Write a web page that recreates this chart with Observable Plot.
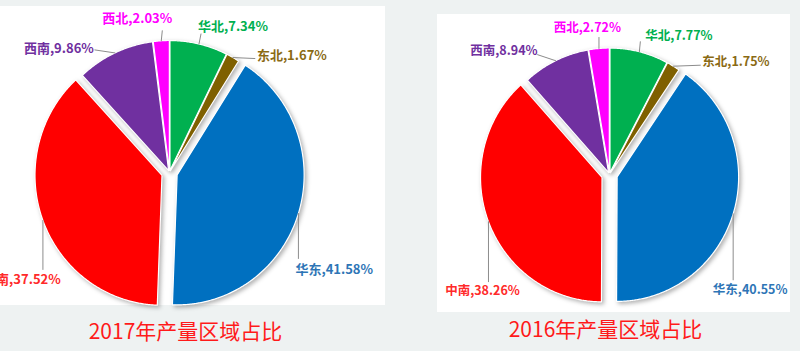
<!DOCTYPE html>
<html><head><meta charset="utf-8">
<script src="https://cdn.jsdelivr.net/npm/d3@7"></script>
<script src="https://cdn.jsdelivr.net/npm/@observablehq/plot@0.6"></script>
<style>
body{margin:0;background:#eef2f2;width:800px;height:351px;overflow:hidden;position:relative;font-family:"Noto Sans CJK SC",sans-serif}
.panel{position:absolute;background:#fff}
#chart{position:absolute;left:0;top:0}
</style></head><body>
<div class="panel" style="left:0;top:6px;width:385px;height:299px"></div>
<div class="panel" style="left:437px;top:14px;width:353px;height:298px"></div>
<div id="chart"></div>
<script>
// ---- data ----
const regions = ["华北","东北","华东","中南","西南","西北"];
const share2017 = [7.34, 1.67, 41.58, 37.52, 9.86, 2.03];
const share2016 = [7.77, 1.75, 40.55, 38.26, 8.94, 2.72];
const titles = ["2017年产量区域占比", "2016年产量区域占比"];
const sliceColors = ["#00b050","#7f6000","#0070c0","#ff0000","#7030a0","#ff00ff"];
const labelColors = ["#00b050","#8a6a14","#2e75b6","#ff2a2a","#7030a0","#ff00ff"];

// ---- layout (styling) ----
// leader: [dx, dy] from slice edge; text: anchor, [tdx, tdy] from leader end
const layout2017 = [
  {dx:2, dy:-10, anchor:"start", tdx:-3, tdy:-7},
  {dx:22, dy:1, anchor:"start", tdx:2, tdy:-3},
  {dx:0, dy:45, anchor:"start", tdx:-3, tdy:11},
  {dx:0, dy:49, anchor:"middle", tdx:-21, tdy:10},
  {dx:-20, dy:-3, anchor:"end", tdx:-1, tdy:-1},
  {dx:1, dy:-10, anchor:"end", tdx:10, tdy:-12}
];
const layout2016 = [
  {dx:1, dy:-10, anchor:"start", tdx:5, tdy:-6},
  {dx:27, dy:-1, anchor:"start", tdx:2, tdy:-3},
  {dx:0, dy:66, anchor:"middle", tdx:17, tdy:10},
  {dx:0, dy:60, anchor:"middle", tdx:-6, tdy:9},
  {dx:-18, dy:-6, anchor:"end", tdx:0, tdy:-4},
  {dx:0, dy:-11, anchor:"end", tdx:22, tdy:-9}
];
const pies = [
  {values: share2017, title: titles[0], cx:169, cy:172, rx:127, ry:130, font:13, titleDx:16, titleY:332, layout: layout2017},
  {values: share2016, title: titles[1], cx:609, cy:174, rx:121.5, ry:124.5, font:12.5, titleDx:-4, titleY:330, layout: layout2016}
];

const slicePts = [], leaderPts = [], labels = [], titleData = [];
pies.forEach((p, pi) => {
  const total = d3.sum(p.values);
  let cum = 0;
  p.values.forEach((v, i) => {
    const a0 = cum / total * 2 * Math.PI;
    cum += v;
    const a1 = cum / total * 2 * Math.PI;
    const am = (a0 + a1) / 2;
    const off = v > 30 ? 8 : 2;
    const ox = p.cx + off * Math.sin(am), oy = p.cy - off * Math.cos(am);
    const key = pi + "-" + i;
    slicePts.push({key, x: ox, y: oy, color: sliceColors[i]});
    const n = Math.max(2, Math.ceil((a1 - a0) / (Math.PI / 360)));
    for (let k = 0; k <= n; k++) {
      const a = a0 + (a1 - a0) * k / n;
      slicePts.push({key, x: ox + p.rx * Math.sin(a), y: oy - p.ry * Math.cos(a), color: sliceColors[i]});
    }
    const ex = ox + p.rx * Math.sin(am), ey = oy - p.ry * Math.cos(am);
    const L = p.layout[i];
    const lx = ex + L.dx, ly = ey + L.dy;
    leaderPts.push({key, x: ex, y: ey}, {key, x: lx, y: ly});
    labels.push({pie: pi, anchor: L.anchor, x: lx + L.tdx, y: ly + L.tdy,
      text: regions[i] + "," + v.toFixed(2) + "%", color: labelColors[i], font: p.font});
  });
  titleData.push({x: p.cx + p.titleDx, y: p.titleY, text: p.title});
});

const labelMarks = [];
pies.forEach((p, pi) => {
  ["start","middle","end"].forEach(anchor => {
    labelMarks.push(Plot.text(labels.filter(d => d.pie === pi && d.anchor === anchor), {
      x: "x", y: "y", text: "text", fill: "color", textAnchor: anchor,
      fontSize: p.font, fontWeight: "bold", fontFamily: "Noto Sans CJK SC", lineAnchor: "middle"
    }));
  });
});

const chart = Plot.plot({
  width: 800, height: 351, margin: 0,
  style: {background: "transparent", overflow: "visible"},
  x: {domain: [0, 800], axis: null},
  y: {domain: [0, 351], range: [0, 351], axis: null},
  color: {type: "identity"},
  marks: [
    Plot.line(slicePts, {x: "x", y: "y", z: "key", fill: "color", stroke: "#ffffff", strokeWidth: 1.2, curve: "linear-closed"}),
    Plot.line(leaderPts, {x: "x", y: "y", z: "key", stroke: "#8c8c8c", strokeWidth: 1}),
    ...labelMarks,
    Plot.text(titleData, {x: "x", y: "y", text: "text", fill: "#ff1a1a", fontSize: 21, fontFamily: "Noto Sans CJK SC", lineAnchor: "middle"})
  ]
});
const g = chart.querySelector('g[aria-label="line"]');
if (g) g.style.filter = "drop-shadow(2px 2px 2px rgba(0,0,0,0.3))";
document.getElementById("chart").appendChild(chart);
</script>
</body></html>
